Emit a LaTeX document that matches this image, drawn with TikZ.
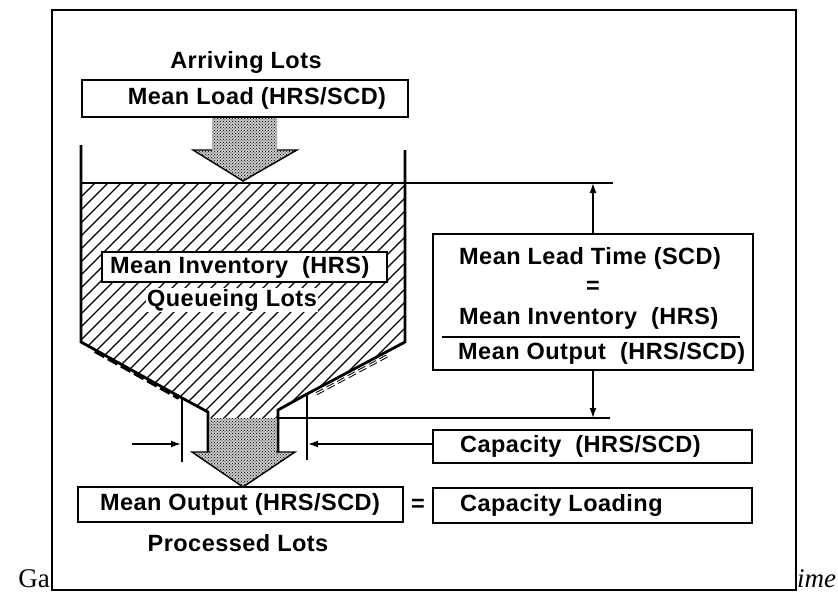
\documentclass[tikz,border=0pt]{standalone}
\usepackage{fontspec}
\setmainfont[LetterSpace=2]{Liberation Sans}
\newfontfamily\capfont{Liberation Serif}
\usetikzlibrary{arrows.meta,patterns}
\begin{document}
\begin{tikzpicture}[x=1pt,y=-1pt,
  lbl/.style={font=\fontsize{23.5}{27}\selectfont\bfseries, inner sep=0pt},
  boxnode/.style={draw, line width=1.8pt, fill=white, inner sep=0pt},
  wall/.style={line width=2.8pt, line join=miter, line cap=butt},
  thinline/.style={line width=1.6pt},
  tip/.style={-{Latex[length=10pt,width=7pt]}, line width=1.5pt},
  stipple/.style={fill=black!22, postaction={pattern=crosshatch dots, pattern color=black}},
  hatchline/.style={line width=1.2pt}]
\useasboundingbox (0,0) rectangle (838,594);

% caption fragments behind the frame
\node[anchor=base east, inner sep=0pt, font=\capfont\fontsize{27}{30}\selectfont] (capa) at (50,587) {Ga};
\node[anchor=base west, inner sep=0pt, font=\capfont\itshape\fontsize{27}{30}\selectfont] (capb) at (797,587) {ime};

% frame
\draw[line width=2.8pt, fill=white] (52,10) rectangle (796,590);

% hatched inventory
\begin{scope}
\clip (81,183) -- (405,183) -- (405,342) -- (278,410) -- (278,418) -- (208,418) -- (208,412) -- (81,342) -- cycle;
\foreach \i in {0,...,45} \draw[hatchline] ({-160+\i*13},425) -- ({85+\i*13},180);
\end{scope}

\node[boxnode, minimum width=285pt, minimum height=30pt] (invbox) at (244.5,267) {};
\node[lbl, anchor=west] (invtxt) at (110,267) {Mean Inventory \ (HRS)};
\node[lbl, fill=white, inner sep=1pt] (queue) at (232,300) {Queueing Lots};

% arriving
\node[lbl] (arriving) at (246,62) {Arriving Lots};
\node[boxnode, minimum width=326pt, minimum height=37pt] (loadbox) at (245,98.5) {};
\node[lbl] (loadtxt) at (257,98.5) {Mean Load (HRS/SCD)};

% top stippled arrow
\path[stipple] (212,118) -- (277,118) -- (277,150) -- (297,150) -- (243,181) -- (193,150) -- (212,150) -- cycle;
\draw[line width=1.4pt, line join=miter] (212,150) -- (193,150) -- (243,181) -- (297,150) -- (277,150);

% bottom stippled arrow
\path[stipple] (210,418) -- (276,418) -- (276,452) -- (295,452) -- (243,487) -- (192,452) -- (210,452) -- cycle;
\draw[line width=1.4pt, line join=miter] (210,452) -- (192,452) -- (243,487) -- (295,452) -- (276,452);

% hopper walls
\coordinate (topline) at (613,183);
\coordinate (botline) at (610,418);
\draw[wall] (81,145) -- (81,342) -- (182,398) -- (208,412) -- (208,452);
\draw[wall] (405,150) -- (405,342) -- (307,394) -- (278,410) -- (278,452);
\draw[wall] (182,398) -- (182,462);
\draw[wall] (307,394) -- (307,460);
\draw[wall] (81,183) -- (405,183);
\draw[thinline] (405,183) -- (topline);
\draw[thinline] (278,418) -- (botline);
\draw[line width=4pt, dash pattern=on 11pt off 4pt] (95,351) -- (179,398);
\draw[line width=1pt, double, double distance=1.2pt, dash pattern=on 8pt off 4pt] (387,356) -- (314,395);

% lead time box
\node[boxnode, minimum width=320pt, minimum height=136pt] (leadbox) at (593,302) {};
\node[lbl, anchor=west] (lt1) at (459,258) {Mean Lead Time (SCD)};
\node[lbl] (lteq) at (593,287) {=};
\node[lbl, anchor=west] (lt2) at (459,318) {Mean Inventory \ (HRS)};
\node[lbl, anchor=west] (lt3) at (458,353) {Mean Output \ (HRS/SCD)};
\draw[line width=1.4pt] (442,337) -- (740,337);
\draw[tip] (leadbox.north) -- (leadbox.north |- topline);
\draw[tip] (leadbox.south) -- (leadbox.south |- botline);

% capacity
\node[boxnode, minimum width=319pt, minimum height=33pt] (capbox) at (592.5,446.5) {};
\node[lbl, anchor=west] (captxt) at (460,446.5) {Capacity \ (HRS/SCD)};
\coordinate (capL) at (132,444);
\coordinate (wallL) at (181,444);
\coordinate (wallR) at (308,444);
\draw[tip] (capL) -- (wallL);
\draw[tip] (capbox.west |- wallR) -- (wallR);

% output
\node[boxnode, minimum width=325pt, minimum height=35pt] (outbox) at (240.5,504.5) {};
\node[lbl] (outtxt) at (240,504.5) {Mean Output (HRS/SCD)};
\node[lbl] (outeq) at (418,505) {=};
\node[boxnode, minimum width=319pt, minimum height=35pt] (loadingbox) at (592.5,505.5) {};
\node[lbl, anchor=west] (loadingtxt) at (460,505.5) {Capacity Loading};
\node[lbl] (processed) at (238,543) {Processed Lots};
\end{tikzpicture}
\end{document}
